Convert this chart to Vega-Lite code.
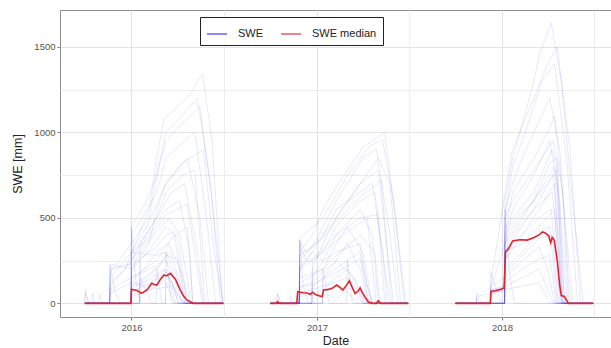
{
  "$schema": "https://vega.github.io/schema/vega-lite/v6.json",
  "width": 551,
  "height": 307,
  "autosize": {"type": "none"},
  "padding": {"left": 60, "top": 10, "right": 0, "bottom": 31},
  "background": "white",
  "config": {
    "font": "Liberation Sans",
    "view": {"stroke": "#8c8c8c", "strokeWidth": 1},
    "axis": {
      "domain": false,
      "gridColor": "#ebebeb",
      "gridWidth": 1.2,
      "tickColor": "#7f7f7f",
      "tickSize": 3,
      "labelColor": "#555555",
      "labelFontSize": 9.5,
      "labelFont": "Liberation Sans",
      "titleFont": "Liberation Sans",
      "titleFontWeight": "normal",
      "titleColor": "#222222",
      "titleFontSize": 12.5
    }
  },
  "datasets": {
    "stations": [
      {"s":"a1","d":"2015-10-01","v":0},{"s":"a1","d":"2015-11-19","v":0},{"s":"a1","d":"2015-11-20","v":120},{"s":"a1","d":"2015-12-20","v":200},{"s":"a1","d":"2016-01-01","v":300},{"s":"a1","d":"2016-01-18","v":420},{"s":"a1","d":"2016-02-05","v":550},{"s":"a1","d":"2016-02-20","v":850},{"s":"a1","d":"2016-03-05","v":1080},{"s":"a1","d":"2016-04-01","v":1150},{"s":"a1","d":"2016-04-25","v":1220},{"s":"a1","d":"2016-05-20","v":1340},{"s":"a1","d":"2016-06-08","v":950},{"s":"a1","d":"2016-06-28","v":0},{"s":"a1","d":"2016-06-30","v":0},
      {"s":"a2","d":"2015-10-01","v":0},{"s":"a2","d":"2015-11-19","v":0},{"s":"a2","d":"2015-11-20","v":200},{"s":"a2","d":"2015-12-31","v":230},{"s":"a2","d":"2016-01-01","v":450},{"s":"a2","d":"2016-01-31","v":600},{"s":"a2","d":"2016-02-20","v":750},{"s":"a2","d":"2016-03-09","v":1000},{"s":"a2","d":"2016-04-10","v":1100},{"s":"a2","d":"2016-05-10","v":1200},{"s":"a2","d":"2016-06-05","v":700},{"s":"a2","d":"2016-06-25","v":0},{"s":"a2","d":"2016-06-30","v":0},
      {"s":"a3","d":"2015-10-01","v":0},{"s":"a3","d":"2015-12-31","v":0},{"s":"a3","d":"2016-01-01","v":400},{"s":"a3","d":"2016-01-18","v":480},{"s":"a3","d":"2016-02-20","v":650},{"s":"a3","d":"2016-03-09","v":850},{"s":"a3","d":"2016-04-15","v":950},{"s":"a3","d":"2016-05-05","v":1000},{"s":"a3","d":"2016-05-28","v":500},{"s":"a3","d":"2016-06-15","v":0},{"s":"a3","d":"2016-06-30","v":0},
      {"s":"a4","d":"2015-10-01","v":0},{"s":"a4","d":"2015-11-19","v":0},{"s":"a4","d":"2015-11-20","v":150},{"s":"a4","d":"2016-01-01","v":300},{"s":"a4","d":"2016-01-31","v":450},{"s":"a4","d":"2016-03-09","v":700},{"s":"a4","d":"2016-04-20","v":850},{"s":"a4","d":"2016-05-15","v":500},{"s":"a4","d":"2016-06-01","v":0},{"s":"a4","d":"2016-06-30","v":0},
      {"s":"a5","d":"2015-10-01","v":0},{"s":"a5","d":"2015-12-31","v":0},{"s":"a5","d":"2016-01-01","v":250},{"s":"a5","d":"2016-01-18","v":350},{"s":"a5","d":"2016-02-20","v":500},{"s":"a5","d":"2016-03-20","v":650},{"s":"a5","d":"2016-04-15","v":700},{"s":"a5","d":"2016-05-10","v":300},{"s":"a5","d":"2016-05-22","v":0},{"s":"a5","d":"2016-06-30","v":0},
      {"s":"a6","d":"2015-10-01","v":0},{"s":"a6","d":"2015-11-19","v":0},{"s":"a6","d":"2015-11-20","v":100},{"s":"a6","d":"2016-01-01","v":250},{"s":"a6","d":"2016-01-31","v":380},{"s":"a6","d":"2016-03-09","v":550},{"s":"a6","d":"2016-04-05","v":600},{"s":"a6","d":"2016-04-25","v":300},{"s":"a6","d":"2016-05-01","v":0},{"s":"a6","d":"2016-06-30","v":0},
      {"s":"a7","d":"2015-10-01","v":0},{"s":"a7","d":"2015-12-31","v":0},{"s":"a7","d":"2016-01-01","v":200},{"s":"a7","d":"2016-01-18","v":300},{"s":"a7","d":"2016-02-20","v":420},{"s":"a7","d":"2016-03-15","v":500},{"s":"a7","d":"2016-04-05","v":400},{"s":"a7","d":"2016-04-28","v":0},{"s":"a7","d":"2016-06-30","v":0},
      {"s":"a8","d":"2015-10-01","v":0},{"s":"a8","d":"2016-01-17","v":0},{"s":"a8","d":"2016-01-18","v":250},{"s":"a8","d":"2016-02-10","v":330},{"s":"a8","d":"2016-03-09","v":450},{"s":"a8","d":"2016-04-01","v":380},{"s":"a8","d":"2016-04-20","v":0},{"s":"a8","d":"2016-06-30","v":0},
      {"s":"a9","d":"2015-10-01","v":0},{"s":"a9","d":"2015-12-31","v":0},{"s":"a9","d":"2016-01-01","v":120},{"s":"a9","d":"2016-01-31","v":220},{"s":"a9","d":"2016-02-20","v":300},{"s":"a9","d":"2016-03-15","v":350},{"s":"a9","d":"2016-04-05","v":200},{"s":"a9","d":"2016-04-20","v":0},{"s":"a9","d":"2016-06-30","v":0},
      {"s":"a10","d":"2015-10-01","v":0},{"s":"a10","d":"2015-12-31","v":0},{"s":"a10","d":"2016-01-01","v":100},{"s":"a10","d":"2016-01-31","v":160},{"s":"a10","d":"2016-03-09","v":250},{"s":"a10","d":"2016-03-25","v":150},{"s":"a10","d":"2016-04-10","v":0},{"s":"a10","d":"2016-06-30","v":0},
      {"s":"a11","d":"2015-10-01","v":0},{"s":"a11","d":"2015-12-31","v":0},{"s":"a11","d":"2016-01-01","v":70},{"s":"a11","d":"2016-02-10","v":120},{"s":"a11","d":"2016-03-10","v":180},{"s":"a11","d":"2016-03-30","v":60},{"s":"a11","d":"2016-04-12","v":0},{"s":"a11","d":"2016-06-30","v":0},
      {"s":"a12","d":"2015-10-01","v":0},{"s":"a12","d":"2015-12-31","v":0},{"s":"a12","d":"2016-01-01","v":50},{"s":"a12","d":"2016-02-10","v":80},{"s":"a12","d":"2016-03-20","v":100},{"s":"a12","d":"2016-04-05","v":0},{"s":"a12","d":"2016-06-30","v":0},
      {"s":"a13","d":"2015-10-01","v":0},{"s":"a13","d":"2015-10-02","v":80},{"s":"a13","d":"2015-10-08","v":0},{"s":"a13","d":"2015-10-15","v":0},{"s":"a13","d":"2015-10-16","v":60},{"s":"a13","d":"2015-10-22","v":0},{"s":"a13","d":"2015-10-29","v":0},{"s":"a13","d":"2015-10-30","v":50},{"s":"a13","d":"2015-11-05","v":0},{"s":"a13","d":"2015-11-19","v":0},{"s":"a13","d":"2015-11-20","v":220},{"s":"a13","d":"2015-11-30","v":60},{"s":"a13","d":"2015-12-10","v":0},{"s":"a13","d":"2015-12-31","v":0},{"s":"a13","d":"2016-01-01","v":440},{"s":"a13","d":"2016-01-10","v":120},{"s":"a13","d":"2016-01-20","v":0},{"s":"a13","d":"2016-02-19","v":0},{"s":"a13","d":"2016-02-20","v":200},{"s":"a13","d":"2016-03-01","v":0},{"s":"a13","d":"2016-03-08","v":0},{"s":"a13","d":"2016-03-09","v":300},{"s":"a13","d":"2016-03-20","v":0},{"s":"a13","d":"2016-06-30","v":0},
      {"s":"a14","d":"2015-10-01","v":0},{"s":"a14","d":"2015-12-31","v":0},{"s":"a14","d":"2016-01-01","v":200},{"s":"a14","d":"2016-02-05","v":350},{"s":"a14","d":"2016-02-20","v":550},{"s":"a14","d":"2016-03-09","v":700},{"s":"a14","d":"2016-04-10","v":820},{"s":"a14","d":"2016-05-22","v":900},{"s":"a14","d":"2016-06-12","v":300},{"s":"a14","d":"2016-06-30","v":0},
      {"s":"a15","d":"2015-10-01","v":0},{"s":"a15","d":"2015-11-19","v":0},{"s":"a15","d":"2015-11-20","v":180},{"s":"a15","d":"2016-01-01","v":350},{"s":"a15","d":"2016-02-05","v":500},{"s":"a15","d":"2016-02-20","v":750},{"s":"a15","d":"2016-03-09","v":950},{"s":"a15","d":"2016-04-10","v":1050},{"s":"a15","d":"2016-05-15","v":1150},{"s":"a15","d":"2016-06-08","v":600},{"s":"a15","d":"2016-06-30","v":0},
      {"s":"a16","d":"2015-10-01","v":0},{"s":"a16","d":"2015-10-02","v":60},{"s":"a16","d":"2015-10-10","v":0},{"s":"a16","d":"2015-12-31","v":0},{"s":"a16","d":"2016-01-01","v":40},{"s":"a16","d":"2016-02-01","v":70},{"s":"a16","d":"2016-02-20","v":100},{"s":"a16","d":"2016-03-15","v":150},{"s":"a16","d":"2016-04-01","v":50},{"s":"a16","d":"2016-04-15","v":0},{"s":"a16","d":"2016-06-30","v":0},
      {"s":"a17","d":"2015-10-01","v":0},{"s":"a17","d":"2016-01-17","v":0},{"s":"a17","d":"2016-01-18","v":150},{"s":"a17","d":"2016-01-31","v":60},{"s":"a17","d":"2016-02-10","v":0},{"s":"a17","d":"2016-03-08","v":0},{"s":"a17","d":"2016-03-09","v":120},{"s":"a17","d":"2016-03-25","v":0},{"s":"a17","d":"2016-06-30","v":0},
      {"s":"a18","d":"2015-10-01","v":0},{"s":"a18","d":"2015-11-19","v":0},{"s":"a18","d":"2015-11-20","v":230},{"s":"a18","d":"2015-12-31","v":200},{"s":"a18","d":"2016-01-01","v":300},{"s":"a18","d":"2016-02-20","v":280},{"s":"a18","d":"2016-03-09","v":300},{"s":"a18","d":"2016-04-01","v":150},{"s":"a18","d":"2016-04-15","v":0},{"s":"a18","d":"2016-06-30","v":0},
      {"s":"a19","d":"2015-10-01","v":0},{"s":"a19","d":"2015-12-31","v":0},{"s":"a19","d":"2016-01-01","v":180},{"s":"a19","d":"2016-01-18","v":260},{"s":"a19","d":"2016-02-20","v":330},{"s":"a19","d":"2016-03-09","v":400},{"s":"a19","d":"2016-03-25","v":420},{"s":"a19","d":"2016-04-15","v":0},{"s":"a19","d":"2016-06-30","v":0},
      {"s":"a20","d":"2015-10-01","v":0},{"s":"a20","d":"2016-01-17","v":0},{"s":"a20","d":"2016-01-18","v":120},{"s":"a20","d":"2016-02-20","v":200},{"s":"a20","d":"2016-03-09","v":280},{"s":"a20","d":"2016-04-01","v":260},{"s":"a20","d":"2016-04-25","v":0},{"s":"a20","d":"2016-06-30","v":0},
      {"s":"a21","d":"2015-10-01","v":0},{"s":"a21","d":"2015-11-19","v":0},{"s":"a21","d":"2015-11-20","v":80},{"s":"a21","d":"2016-01-01","v":150},{"s":"a21","d":"2016-02-20","v":220},{"s":"a21","d":"2016-03-18","v":300},{"s":"a21","d":"2016-04-08","v":100},{"s":"a21","d":"2016-04-18","v":0},{"s":"a21","d":"2016-06-30","v":0},
      {"s":"a22","d":"2015-10-01","v":0},{"s":"a22","d":"2015-12-31","v":0},{"s":"a22","d":"2016-01-01","v":300},{"s":"a22","d":"2016-02-05","v":380},{"s":"a22","d":"2016-03-09","v":520},{"s":"a22","d":"2016-04-20","v":580},{"s":"a22","d":"2016-05-10","v":200},{"s":"a22","d":"2016-05-20","v":0},{"s":"a22","d":"2016-06-30","v":0},
      {"s":"a23","d":"2015-10-01","v":0},{"s":"a23","d":"2015-12-31","v":0},{"s":"a23","d":"2016-01-01","v":90},{"s":"a23","d":"2016-02-10","v":150},{"s":"a23","d":"2016-03-05","v":200},{"s":"a23","d":"2016-03-22","v":120},{"s":"a23","d":"2016-04-02","v":0},{"s":"a23","d":"2016-06-30","v":0},
      {"s":"a24","d":"2015-10-01","v":0},{"s":"a24","d":"2016-01-17","v":0},{"s":"a24","d":"2016-01-18","v":350},{"s":"a24","d":"2016-02-20","v":500},{"s":"a24","d":"2016-03-09","v":650},{"s":"a24","d":"2016-04-10","v":750},{"s":"a24","d":"2016-05-05","v":780},{"s":"a24","d":"2016-05-25","v":0},{"s":"a24","d":"2016-06-30","v":0},
      {"s":"a25","d":"2015-10-01","v":0},{"s":"a25","d":"2015-11-19","v":0},{"s":"a25","d":"2015-11-20","v":60},{"s":"a25","d":"2016-01-01","v":120},{"s":"a25","d":"2016-01-31","v":100},{"s":"a25","d":"2016-03-09","v":200},{"s":"a25","d":"2016-03-28","v":0},{"s":"a25","d":"2016-06-30","v":0},
      {"s":"a26","d":"2015-10-01","v":0},{"s":"a26","d":"2015-12-31","v":0},{"s":"a26","d":"2016-01-01","v":150},{"s":"a26","d":"2016-02-20","v":250},{"s":"a26","d":"2016-03-20","v":380},{"s":"a26","d":"2016-04-20","v":450},{"s":"a26","d":"2016-05-01","v":0},{"s":"a26","d":"2016-06-30","v":0},

      {"s":"b1","d":"2016-10-01","v":0},{"s":"b1","d":"2016-11-27","v":0},{"s":"b1","d":"2016-11-28","v":300},{"s":"b1","d":"2016-12-23","v":400},{"s":"b1","d":"2017-01-13","v":550},{"s":"b1","d":"2017-02-08","v":680},{"s":"b1","d":"2017-03-02","v":780},{"s":"b1","d":"2017-04-01","v":910},{"s":"b1","d":"2017-05-14","v":1000},{"s":"b1","d":"2017-06-05","v":500},{"s":"b1","d":"2017-06-25","v":0},{"s":"b1","d":"2017-06-30","v":0},
      {"s":"b2","d":"2016-10-01","v":0},{"s":"b2","d":"2016-11-27","v":0},{"s":"b2","d":"2016-11-28","v":250},{"s":"b2","d":"2016-12-23","v":330},{"s":"b2","d":"2017-01-13","v":450},{"s":"b2","d":"2017-02-08","v":600},{"s":"b2","d":"2017-03-02","v":700},{"s":"b2","d":"2017-04-01","v":850},{"s":"b2","d":"2017-04-28","v":900},{"s":"b2","d":"2017-05-25","v":400},{"s":"b2","d":"2017-06-10","v":0},{"s":"b2","d":"2017-06-30","v":0},
      {"s":"b3","d":"2016-10-01","v":0},{"s":"b3","d":"2016-11-27","v":0},{"s":"b3","d":"2016-11-28","v":370},{"s":"b3","d":"2016-12-10","v":300},{"s":"b3","d":"2016-12-23","v":330},{"s":"b3","d":"2017-01-13","v":400},{"s":"b3","d":"2017-02-08","v":500},{"s":"b3","d":"2017-03-27","v":700},{"s":"b3","d":"2017-05-02","v":780},{"s":"b3","d":"2017-05-20","v":300},{"s":"b3","d":"2017-06-01","v":0},{"s":"b3","d":"2017-06-30","v":0},
      {"s":"b4","d":"2016-10-01","v":0},{"s":"b4","d":"2016-11-27","v":0},{"s":"b4","d":"2016-11-28","v":200},{"s":"b4","d":"2017-01-13","v":300},{"s":"b4","d":"2017-02-08","v":450},{"s":"b4","d":"2017-03-27","v":600},{"s":"b4","d":"2017-04-25","v":650},{"s":"b4","d":"2017-05-15","v":200},{"s":"b4","d":"2017-05-25","v":0},{"s":"b4","d":"2017-06-30","v":0},
      {"s":"b5","d":"2016-10-01","v":0},{"s":"b5","d":"2016-12-22","v":0},{"s":"b5","d":"2016-12-23","v":150},{"s":"b5","d":"2017-01-13","v":250},{"s":"b5","d":"2017-02-08","v":400},{"s":"b5","d":"2017-03-27","v":550},{"s":"b5","d":"2017-04-20","v":400},{"s":"b5","d":"2017-05-02","v":0},{"s":"b5","d":"2017-06-30","v":0},
      {"s":"b6","d":"2016-10-01","v":0},{"s":"b6","d":"2016-11-27","v":0},{"s":"b6","d":"2016-11-28","v":150},{"s":"b6","d":"2017-01-13","v":200},{"s":"b6","d":"2017-02-08","v":350},{"s":"b6","d":"2017-03-02","v":450},{"s":"b6","d":"2017-04-01","v":300},{"s":"b6","d":"2017-04-20","v":0},{"s":"b6","d":"2017-06-30","v":0},
      {"s":"b7","d":"2016-10-01","v":0},{"s":"b7","d":"2017-01-12","v":0},{"s":"b7","d":"2017-01-13","v":150},{"s":"b7","d":"2017-02-08","v":250},{"s":"b7","d":"2017-03-02","v":350},{"s":"b7","d":"2017-03-27","v":200},{"s":"b7","d":"2017-04-15","v":0},{"s":"b7","d":"2017-06-30","v":0},
      {"s":"b8","d":"2016-10-01","v":0},{"s":"b8","d":"2016-11-27","v":0},{"s":"b8","d":"2016-11-28","v":100},{"s":"b8","d":"2016-12-23","v":120},{"s":"b8","d":"2017-01-13","v":180},{"s":"b8","d":"2017-02-08","v":250},{"s":"b8","d":"2017-03-15","v":150},{"s":"b8","d":"2017-04-01","v":0},{"s":"b8","d":"2017-06-30","v":0},
      {"s":"b9","d":"2016-10-01","v":0},{"s":"b9","d":"2016-11-27","v":0},{"s":"b9","d":"2016-11-28","v":60},{"s":"b9","d":"2017-01-13","v":100},{"s":"b9","d":"2017-03-02","v":150},{"s":"b9","d":"2017-03-27","v":50},{"s":"b9","d":"2017-04-10","v":0},{"s":"b9","d":"2017-06-30","v":0},
      {"s":"b10","d":"2016-10-01","v":0},{"s":"b10","d":"2016-10-14","v":0},{"s":"b10","d":"2016-10-15","v":60},{"s":"b10","d":"2016-10-22","v":0},{"s":"b10","d":"2016-11-09","v":0},{"s":"b10","d":"2016-11-10","v":40},{"s":"b10","d":"2016-11-15","v":0},{"s":"b10","d":"2016-11-27","v":0},{"s":"b10","d":"2016-11-28","v":370},{"s":"b10","d":"2016-12-05","v":100},{"s":"b10","d":"2016-12-15","v":0},{"s":"b10","d":"2017-01-12","v":0},{"s":"b10","d":"2017-01-13","v":200},{"s":"b10","d":"2017-01-25","v":0},{"s":"b10","d":"2017-03-01","v":0},{"s":"b10","d":"2017-03-02","v":250},{"s":"b10","d":"2017-03-12","v":0},{"s":"b10","d":"2017-06-30","v":0},
      {"s":"b11","d":"2016-10-01","v":0},{"s":"b11","d":"2016-11-27","v":0},{"s":"b11","d":"2016-11-28","v":350},{"s":"b11","d":"2016-12-10","v":250},{"s":"b11","d":"2016-12-23","v":300},{"s":"b11","d":"2017-01-13","v":250},{"s":"b11","d":"2017-02-08","v":300},{"s":"b11","d":"2017-03-27","v":350},{"s":"b11","d":"2017-04-10","v":100},{"s":"b11","d":"2017-04-20","v":0},{"s":"b11","d":"2017-06-30","v":0},
      {"s":"b12","d":"2016-10-01","v":0},{"s":"b12","d":"2016-12-22","v":0},{"s":"b12","d":"2016-12-23","v":200},{"s":"b12","d":"2017-01-13","v":350},{"s":"b12","d":"2017-02-08","v":500},{"s":"b12","d":"2017-03-27","v":700},{"s":"b12","d":"2017-05-02","v":850},{"s":"b12","d":"2017-05-25","v":700},{"s":"b12","d":"2017-06-15","v":0},{"s":"b12","d":"2017-06-30","v":0},
      {"s":"b13","d":"2016-10-01","v":0},{"s":"b13","d":"2016-10-15","v":50},{"s":"b13","d":"2016-10-22","v":0},{"s":"b13","d":"2016-11-27","v":0},{"s":"b13","d":"2016-11-28","v":50},{"s":"b13","d":"2016-12-23","v":60},{"s":"b13","d":"2017-02-08","v":100},{"s":"b13","d":"2017-03-15","v":80},{"s":"b13","d":"2017-04-01","v":0},{"s":"b13","d":"2017-06-30","v":0},
      {"s":"b14","d":"2016-10-01","v":0},{"s":"b14","d":"2016-11-27","v":0},{"s":"b14","d":"2016-11-28","v":200},{"s":"b14","d":"2016-12-23","v":300},{"s":"b14","d":"2017-01-13","v":400},{"s":"b14","d":"2017-02-08","v":550},{"s":"b14","d":"2017-03-27","v":650},{"s":"b14","d":"2017-04-20","v":700},{"s":"b14","d":"2017-05-10","v":300},{"s":"b14","d":"2017-05-20","v":0},{"s":"b14","d":"2017-06-30","v":0},
      {"s":"b15","d":"2016-10-01","v":0},{"s":"b15","d":"2016-11-27","v":0},{"s":"b15","d":"2016-11-28","v":40},{"s":"b15","d":"2017-01-13","v":60},{"s":"b15","d":"2017-02-08","v":30},{"s":"b15","d":"2017-03-02","v":70},{"s":"b15","d":"2017-03-20","v":0},{"s":"b15","d":"2017-06-30","v":0},
      {"s":"b16","d":"2016-10-01","v":0},{"s":"b16","d":"2016-11-27","v":0},{"s":"b16","d":"2016-11-28","v":380},{"s":"b16","d":"2017-01-13","v":500},{"s":"b16","d":"2017-03-02","v":750},{"s":"b16","d":"2017-04-15","v":920},{"s":"b16","d":"2017-05-10","v":960},{"s":"b16","d":"2017-06-01","v":600},{"s":"b16","d":"2017-06-22","v":0},{"s":"b16","d":"2017-06-30","v":0},
      {"s":"b17","d":"2016-10-01","v":0},{"s":"b17","d":"2016-11-27","v":0},{"s":"b17","d":"2016-11-28","v":120},{"s":"b17","d":"2017-01-13","v":200},{"s":"b17","d":"2017-02-08","v":280},{"s":"b17","d":"2017-03-27","v":400},{"s":"b17","d":"2017-04-25","v":300},{"s":"b17","d":"2017-05-05","v":0},{"s":"b17","d":"2017-06-30","v":0},
      {"s":"b18","d":"2016-10-01","v":0},{"s":"b18","d":"2016-12-22","v":0},{"s":"b18","d":"2016-12-23","v":100},{"s":"b18","d":"2017-01-13","v":150},{"s":"b18","d":"2017-03-02","v":250},{"s":"b18","d":"2017-03-27","v":300},{"s":"b18","d":"2017-04-12","v":0},{"s":"b18","d":"2017-06-30","v":0},
      {"s":"b19","d":"2016-10-01","v":0},{"s":"b19","d":"2016-11-27","v":0},{"s":"b19","d":"2016-11-28","v":220},{"s":"b19","d":"2016-12-23","v":260},{"s":"b19","d":"2017-01-13","v":320},{"s":"b19","d":"2017-02-08","v":400},{"s":"b19","d":"2017-03-27","v":500},{"s":"b19","d":"2017-05-01","v":520},{"s":"b19","d":"2017-05-15","v":0},{"s":"b19","d":"2017-06-30","v":0},
      {"s":"b20","d":"2016-10-01","v":0},{"s":"b20","d":"2017-01-12","v":0},{"s":"b20","d":"2017-01-13","v":80},{"s":"b20","d":"2017-02-08","v":150},{"s":"b20","d":"2017-03-02","v":200},{"s":"b20","d":"2017-03-20","v":120},{"s":"b20","d":"2017-04-05","v":0},{"s":"b20","d":"2017-06-30","v":0},
      {"s":"b21","d":"2016-10-01","v":0},{"s":"b21","d":"2016-11-27","v":0},{"s":"b21","d":"2016-11-28","v":90},{"s":"b21","d":"2016-12-23","v":110},{"s":"b21","d":"2017-02-08","v":180},{"s":"b21","d":"2017-03-27","v":260},{"s":"b21","d":"2017-04-20","v":0},{"s":"b21","d":"2017-06-30","v":0},
      {"s":"b22","d":"2016-10-01","v":0},{"s":"b22","d":"2016-11-27","v":0},{"s":"b22","d":"2016-11-28","v":280},{"s":"b22","d":"2017-01-13","v":380},{"s":"b22","d":"2017-02-08","v":480},{"s":"b22","d":"2017-03-27","v":620},{"s":"b22","d":"2017-05-08","v":720},{"s":"b22","d":"2017-05-28","v":0},{"s":"b22","d":"2017-06-30","v":0},
      {"s":"b23","d":"2016-10-01","v":0},{"s":"b23","d":"2016-12-22","v":0},{"s":"b23","d":"2016-12-23","v":250},{"s":"b23","d":"2017-01-13","v":300},{"s":"b23","d":"2017-03-02","v":420},{"s":"b23","d":"2017-04-10","v":500},{"s":"b23","d":"2017-04-28","v":0},{"s":"b23","d":"2017-06-30","v":0},

      {"s":"c1","d":"2017-10-01","v":0},{"s":"c1","d":"2017-12-09","v":0},{"s":"c1","d":"2017-12-10","v":100},{"s":"c1","d":"2018-01-06","v":150},{"s":"c1","d":"2018-01-07","v":600},{"s":"c1","d":"2018-01-22","v":850},{"s":"c1","d":"2018-02-10","v":1050},{"s":"c1","d":"2018-03-05","v":1300},{"s":"c1","d":"2018-03-15","v":1450},{"s":"c1","d":"2018-04-08","v":1640},{"s":"c1","d":"2018-04-28","v":1300},{"s":"c1","d":"2018-05-20","v":600},{"s":"c1","d":"2018-06-10","v":0},{"s":"c1","d":"2018-06-30","v":0},
      {"s":"c2","d":"2017-10-01","v":0},{"s":"c2","d":"2017-12-09","v":0},{"s":"c2","d":"2017-12-10","v":80},{"s":"c2","d":"2018-01-06","v":100},{"s":"c2","d":"2018-01-07","v":500},{"s":"c2","d":"2018-01-22","v":800},{"s":"c2","d":"2018-02-10","v":950},{"s":"c2","d":"2018-03-05","v":1150},{"s":"c2","d":"2018-03-20","v":1300},{"s":"c2","d":"2018-04-15","v":1400},{"s":"c2","d":"2018-05-10","v":800},{"s":"c2","d":"2018-05-30","v":0},{"s":"c2","d":"2018-06-30","v":0},
      {"s":"c3","d":"2017-10-01","v":0},{"s":"c3","d":"2017-12-09","v":0},{"s":"c3","d":"2017-12-10","v":70},{"s":"c3","d":"2018-01-06","v":80},{"s":"c3","d":"2018-01-07","v":400},{"s":"c3","d":"2018-01-22","v":650},{"s":"c3","d":"2018-03-05","v":850},{"s":"c3","d":"2018-04-01","v":1000},{"s":"c3","d":"2018-04-15","v":1100},{"s":"c3","d":"2018-05-05","v":500},{"s":"c3","d":"2018-05-20","v":0},{"s":"c3","d":"2018-06-30","v":0},
      {"s":"c4","d":"2017-10-01","v":0},{"s":"c4","d":"2018-01-06","v":0},{"s":"c4","d":"2018-01-07","v":350},{"s":"c4","d":"2018-01-22","v":550},{"s":"c4","d":"2018-03-05","v":750},{"s":"c4","d":"2018-04-05","v":950},{"s":"c4","d":"2018-04-25","v":600},{"s":"c4","d":"2018-05-10","v":0},{"s":"c4","d":"2018-06-30","v":0},
      {"s":"c5","d":"2017-10-01","v":0},{"s":"c5","d":"2017-12-09","v":0},{"s":"c5","d":"2017-12-10","v":60},{"s":"c5","d":"2018-01-06","v":70},{"s":"c5","d":"2018-01-07","v":350},{"s":"c5","d":"2018-02-10","v":500},{"s":"c5","d":"2018-03-15","v":650},{"s":"c5","d":"2018-04-15","v":800},{"s":"c5","d":"2018-04-28","v":300},{"s":"c5","d":"2018-05-05","v":0},{"s":"c5","d":"2018-06-30","v":0},
      {"s":"c6","d":"2017-10-01","v":0},{"s":"c6","d":"2018-01-06","v":0},{"s":"c6","d":"2018-01-07","v":300},{"s":"c6","d":"2018-01-22","v":400},{"s":"c6","d":"2018-03-05","v":550},{"s":"c6","d":"2018-04-10","v":650},{"s":"c6","d":"2018-04-25","v":200},{"s":"c6","d":"2018-05-01","v":0},{"s":"c6","d":"2018-06-30","v":0},
      {"s":"c7","d":"2017-10-01","v":0},{"s":"c7","d":"2017-12-09","v":0},{"s":"c7","d":"2017-12-10","v":80},{"s":"c7","d":"2018-01-06","v":90},{"s":"c7","d":"2018-01-07","v":250},{"s":"c7","d":"2018-01-22","v":350},{"s":"c7","d":"2018-03-15","v":500},{"s":"c7","d":"2018-04-08","v":550},{"s":"c7","d":"2018-04-22","v":100},{"s":"c7","d":"2018-04-30","v":0},{"s":"c7","d":"2018-06-30","v":0},
      {"s":"c8","d":"2017-10-01","v":0},{"s":"c8","d":"2018-01-06","v":0},{"s":"c8","d":"2018-01-07","v":200},{"s":"c8","d":"2018-02-10","v":300},{"s":"c8","d":"2018-03-15","v":420},{"s":"c8","d":"2018-04-05","v":450},{"s":"c8","d":"2018-04-20","v":0},{"s":"c8","d":"2018-06-30","v":0},
      {"s":"c9","d":"2017-10-01","v":0},{"s":"c9","d":"2018-01-06","v":0},{"s":"c9","d":"2018-01-07","v":150},{"s":"c9","d":"2018-02-10","v":250},{"s":"c9","d":"2018-03-15","v":330},{"s":"c9","d":"2018-04-01","v":200},{"s":"c9","d":"2018-04-15","v":0},{"s":"c9","d":"2018-06-30","v":0},
      {"s":"c10","d":"2017-10-01","v":0},{"s":"c10","d":"2017-12-09","v":0},{"s":"c10","d":"2017-12-10","v":50},{"s":"c10","d":"2018-01-07","v":100},{"s":"c10","d":"2018-02-10","v":150},{"s":"c10","d":"2018-03-15","v":200},{"s":"c10","d":"2018-04-01","v":80},{"s":"c10","d":"2018-04-12","v":0},{"s":"c10","d":"2018-06-30","v":0},
      {"s":"c11","d":"2017-10-01","v":0},{"s":"c11","d":"2017-11-11","v":0},{"s":"c11","d":"2017-11-12","v":60},{"s":"c11","d":"2017-11-22","v":0},{"s":"c11","d":"2017-12-09","v":0},{"s":"c11","d":"2017-12-10","v":180},{"s":"c11","d":"2017-12-25","v":50},{"s":"c11","d":"2018-01-01","v":0},{"s":"c11","d":"2018-01-06","v":0},{"s":"c11","d":"2018-01-07","v":550},{"s":"c11","d":"2018-01-15","v":200},{"s":"c11","d":"2018-01-25","v":0},{"s":"c11","d":"2018-06-30","v":0},
      {"s":"c12","d":"2017-10-01","v":0},{"s":"c12","d":"2018-01-06","v":0},{"s":"c12","d":"2018-01-07","v":450},{"s":"c12","d":"2018-01-22","v":500},{"s":"c12","d":"2018-03-05","v":650},{"s":"c12","d":"2018-04-10","v":900},{"s":"c12","d":"2018-04-20","v":780},{"s":"c12","d":"2018-04-28","v":0},{"s":"c12","d":"2018-06-30","v":0},
      {"s":"c13","d":"2017-10-01","v":0},{"s":"c13","d":"2018-01-06","v":0},{"s":"c13","d":"2018-01-07","v":550},{"s":"c13","d":"2018-01-22","v":700},{"s":"c13","d":"2018-02-10","v":850},{"s":"c13","d":"2018-03-05","v":1000},{"s":"c13","d":"2018-04-05","v":1200},{"s":"c13","d":"2018-04-25","v":900},{"s":"c13","d":"2018-05-15","v":0},{"s":"c13","d":"2018-06-30","v":0},
      {"s":"c14","d":"2017-10-01","v":0},{"s":"c14","d":"2017-11-11","v":0},{"s":"c14","d":"2017-11-12","v":40},{"s":"c14","d":"2017-12-10","v":60},{"s":"c14","d":"2018-01-07","v":80},{"s":"c14","d":"2018-02-10","v":100},{"s":"c14","d":"2018-03-15","v":120},{"s":"c14","d":"2018-04-05","v":0},{"s":"c14","d":"2018-06-30","v":0},
      {"s":"c15","d":"2017-10-01","v":0},{"s":"c15","d":"2018-01-06","v":0},{"s":"c15","d":"2018-01-07","v":300},{"s":"c15","d":"2018-02-10","v":450},{"s":"c15","d":"2018-03-15","v":600},{"s":"c15","d":"2018-04-18","v":780},{"s":"c15","d":"2018-04-26","v":500},{"s":"c15","d":"2018-05-05","v":0},{"s":"c15","d":"2018-06-30","v":0},
      {"s":"c16","d":"2017-10-01","v":0},{"s":"c16","d":"2017-12-09","v":0},{"s":"c16","d":"2017-12-10","v":120},{"s":"c16","d":"2018-01-07","v":650},{"s":"c16","d":"2018-01-22","v":900},{"s":"c16","d":"2018-03-05","v":1200},{"s":"c16","d":"2018-04-01","v":1400},{"s":"c16","d":"2018-04-20","v":1500},{"s":"c16","d":"2018-05-15","v":900},{"s":"c16","d":"2018-06-05","v":0},{"s":"c16","d":"2018-06-30","v":0},
      {"s":"c17","d":"2017-10-01","v":0},{"s":"c17","d":"2018-01-06","v":0},{"s":"c17","d":"2018-01-07","v":250},{"s":"c17","d":"2018-02-10","v":400},{"s":"c17","d":"2018-03-15","v":550},{"s":"c17","d":"2018-04-15","v":700},{"s":"c17","d":"2018-04-28","v":0},{"s":"c17","d":"2018-06-30","v":0},
      {"s":"c18","d":"2017-10-01","v":0},{"s":"c18","d":"2017-12-09","v":0},{"s":"c18","d":"2017-12-10","v":90},{"s":"c18","d":"2018-01-07","v":350},{"s":"c18","d":"2018-01-22","v":450},{"s":"c18","d":"2018-03-05","v":600},{"s":"c18","d":"2018-04-12","v":750},{"s":"c18","d":"2018-04-24","v":300},{"s":"c18","d":"2018-05-02","v":0},{"s":"c18","d":"2018-06-30","v":0},
      {"s":"c19","d":"2017-10-01","v":0},{"s":"c19","d":"2018-01-06","v":0},{"s":"c19","d":"2018-01-07","v":180},{"s":"c19","d":"2018-02-10","v":280},{"s":"c19","d":"2018-03-15","v":380},{"s":"c19","d":"2018-04-10","v":400},{"s":"c19","d":"2018-04-22","v":0},{"s":"c19","d":"2018-06-30","v":0},
      {"s":"c20","d":"2017-10-01","v":0},{"s":"c20","d":"2018-01-06","v":0},{"s":"c20","d":"2018-01-07","v":400},{"s":"c20","d":"2018-01-22","v":480},{"s":"c20","d":"2018-03-05","v":600},{"s":"c20","d":"2018-04-05","v":820},{"s":"c20","d":"2018-04-20","v":850},{"s":"c20","d":"2018-05-01","v":0},{"s":"c20","d":"2018-06-30","v":0},
      {"s":"c21","d":"2017-10-01","v":0},{"s":"c21","d":"2017-12-09","v":0},{"s":"c21","d":"2017-12-10","v":40},{"s":"c21","d":"2018-01-07","v":120},{"s":"c21","d":"2018-02-10","v":200},{"s":"c21","d":"2018-03-15","v":260},{"s":"c21","d":"2018-04-05","v":280},{"s":"c21","d":"2018-04-18","v":0},{"s":"c21","d":"2018-06-30","v":0},
      {"s":"c22","d":"2017-10-01","v":0},{"s":"c22","d":"2018-01-06","v":0},{"s":"c22","d":"2018-01-07","v":500},{"s":"c22","d":"2018-01-22","v":600},{"s":"c22","d":"2018-03-05","v":780},{"s":"c22","d":"2018-04-12","v":950},{"s":"c22","d":"2018-05-01","v":650},{"s":"c22","d":"2018-05-12","v":0},{"s":"c22","d":"2018-06-30","v":0},
      {"s":"c23","d":"2017-10-01","v":0},{"s":"c23","d":"2017-11-11","v":0},{"s":"c23","d":"2017-11-12","v":30},{"s":"c23","d":"2017-11-20","v":0},{"s":"c23","d":"2018-01-06","v":0},{"s":"c23","d":"2018-01-07","v":300},{"s":"c23","d":"2018-02-10","v":350},{"s":"c23","d":"2018-03-15","v":450},{"s":"c23","d":"2018-04-15","v":550},{"s":"c23","d":"2018-04-25","v":0},{"s":"c23","d":"2018-06-30","v":0}
    ],
    "median": [
      {"s":"m16","d":"2015-10-01","v":0},{"s":"m16","d":"2015-12-31","v":0},{"s":"m16","d":"2016-01-01","v":82},{"s":"m16","d":"2016-01-12","v":75},{"s":"m16","d":"2016-01-21","v":58},{"s":"m16","d":"2016-02-01","v":80},{"s":"m16","d":"2016-02-10","v":117},{"s":"m16","d":"2016-02-15","v":110},{"s":"m16","d":"2016-02-20","v":107},{"s":"m16","d":"2016-02-27","v":140},{"s":"m16","d":"2016-03-05","v":166},{"s":"m16","d":"2016-03-10","v":160},{"s":"m16","d":"2016-03-18","v":175},{"s":"m16","d":"2016-03-28","v":140},{"s":"m16","d":"2016-04-06","v":78},{"s":"m16","d":"2016-04-12","v":45},{"s":"m16","d":"2016-04-19","v":20},{"s":"m16","d":"2016-05-02","v":0},{"s":"m16","d":"2016-06-30","v":0},
      {"s":"m17","d":"2016-10-01","v":0},{"s":"m17","d":"2016-10-14","v":0},{"s":"m17","d":"2016-10-15","v":10},{"s":"m17","d":"2016-10-20","v":0},{"s":"m17","d":"2016-11-22","v":0},{"s":"m17","d":"2016-11-24","v":68},{"s":"m17","d":"2016-12-05","v":62},{"s":"m17","d":"2016-12-12","v":60},{"s":"m17","d":"2016-12-19","v":53},{"s":"m17","d":"2016-12-23","v":65},{"s":"m17","d":"2016-12-30","v":50},{"s":"m17","d":"2017-01-11","v":39},{"s":"m17","d":"2017-01-14","v":78},{"s":"m17","d":"2017-01-22","v":80},{"s":"m17","d":"2017-01-31","v":88},{"s":"m17","d":"2017-02-09","v":107},{"s":"m17","d":"2017-02-15","v":95},{"s":"m17","d":"2017-02-21","v":78},{"s":"m17","d":"2017-02-28","v":105},{"s":"m17","d":"2017-03-06","v":132},{"s":"m17","d":"2017-03-12","v":90},{"s":"m17","d":"2017-03-17","v":58},{"s":"m17","d":"2017-03-24","v":75},{"s":"m17","d":"2017-03-27","v":90},{"s":"m17","d":"2017-03-31","v":65},{"s":"m17","d":"2017-04-05","v":40},{"s":"m17","d":"2017-04-12","v":9},{"s":"m17","d":"2017-04-20","v":0},{"s":"m17","d":"2017-04-28","v":0},{"s":"m17","d":"2017-05-02","v":15},{"s":"m17","d":"2017-05-07","v":0},{"s":"m17","d":"2017-06-30","v":0},
      {"s":"m18","d":"2017-10-01","v":0},{"s":"m18","d":"2017-12-09","v":0},{"s":"m18","d":"2017-12-10","v":70},{"s":"m18","d":"2017-12-20","v":75},{"s":"m18","d":"2017-12-28","v":80},{"s":"m18","d":"2018-01-05","v":90},{"s":"m18","d":"2018-01-08","v":300},{"s":"m18","d":"2018-01-14","v":320},{"s":"m18","d":"2018-01-22","v":365},{"s":"m18","d":"2018-02-05","v":372},{"s":"m18","d":"2018-02-20","v":370},{"s":"m18","d":"2018-03-05","v":385},{"s":"m18","d":"2018-03-15","v":400},{"s":"m18","d":"2018-03-22","v":418},{"s":"m18","d":"2018-03-28","v":410},{"s":"m18","d":"2018-04-03","v":395},{"s":"m18","d":"2018-04-07","v":355},{"s":"m18","d":"2018-04-10","v":385},{"s":"m18","d":"2018-04-14","v":370},{"s":"m18","d":"2018-04-20","v":250},{"s":"m18","d":"2018-04-25","v":100},{"s":"m18","d":"2018-04-28","v":45},{"s":"m18","d":"2018-05-04","v":40},{"s":"m18","d":"2018-05-12","v":0},{"s":"m18","d":"2018-06-30","v":0}
    ]
  },
  "encoding": {
    "x": {
      "field": "d",
      "type": "temporal",
      "scale": {
        "type": "utc",
        "domain": [
          {"year": 2015, "month": 8, "date": 13, "utc": true},
          {"year": 2018, "month": 8, "date": 4, "utc": true}
        ]
      },
      "axis": {
        "title": "Date",
        "values": [
          {"year": 2016, "month": 1, "date": 1, "utc": true},
          {"year": 2016, "month": 7, "date": 1, "utc": true},
          {"year": 2017, "month": 1, "date": 1, "utc": true},
          {"year": 2017, "month": 7, "date": 1, "utc": true},
          {"year": 2018, "month": 1, "date": 1, "utc": true},
          {"year": 2018, "month": 7, "date": 1, "utc": true}
        ],
        "labelExpr": "utcmonth(datum.value) == 0 ? utcFormat(datum.value, '%Y') : ''",
        "tickOpacity": {"condition": {"test": "utcmonth(datum.value) == 0", "value": 1}, "value": 0},
        "gridColor": {"condition": {"test": "utcmonth(datum.value) == 0", "value": "#e4e4e4"}, "value": "#eeeeee"},
        "labelPadding": 2,
        "titlePadding": 3
      }
    },
    "y": {
      "field": "v",
      "type": "quantitative",
      "scale": {"domain": [-80, 1716], "nice": false, "zero": false},
      "axis": {
        "title": "SWE [mm]",
        "values": [0, 250, 500, 750, 1000, 1250, 1500],
        "labelExpr": "datum.value % 500 == 0 ? datum.label : ''",
        "format": "d",
        "tickOpacity": {"condition": {"test": "datum.value % 500 == 0", "value": 1}, "value": 0},
        "gridColor": {"condition": {"test": "datum.value % 500 == 0", "value": "#e4e4e4"}, "value": "#eeeeee"},
        "labelPadding": 2,
        "titlePadding": 9
      }
    }
  },
  "layer": [
    {
      "data": {"name": "stations"},
      "mark": {"type": "line", "strokeWidth": 1, "opacity": 0.11, "clip": true},
      "encoding": {
        "detail": {"field": "s"},
        "color": {
          "datum": "SWE",
          "scale": {"domain": ["SWE", "SWE median"], "range": ["#3030e0", "#e3242b"]},
          "legend": {
            "title": null,
            "orient": "none",
            "legendX": 140,
            "legendY": 7,
            "direction": "horizontal",
            "symbolType": "stroke",
            "symbolSize": 400,
            "symbolStrokeWidth": 1.5,
            "symbolOpacity": 0.75,
            "labelFontSize": 11,
            "labelColor": "#222222",
            "labelOffset": 10,
            "columnPadding": 14,
            "padding": 6,
            "strokeColor": "#222222",
            "fillColor": "white"
          }
        }
      }
    },
    {
      "data": {"name": "median"},
      "mark": {"type": "line", "strokeWidth": 1.6, "clip": true},
      "encoding": {
        "detail": {"field": "s"},
        "color": {"datum": "SWE median"}
      }
    }
  ]
}
